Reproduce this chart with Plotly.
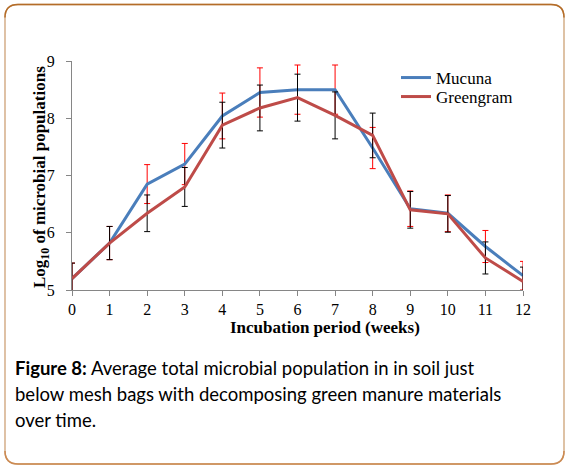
import plotly.graph_objects as go

weeks = list(range(13))
mucuna = [5.2, 5.82, 6.85, 7.2, 8.04, 8.45, 8.5, 8.5, 7.48, 6.42, 6.34, 5.76, 5.25]
greengram = [5.2, 5.82, 6.34, 6.8, 7.88, 8.18, 8.36, 8.05, 7.7, 6.4, 6.33, 5.56, 5.15]
mucuna_err = [0.27, 0.29, 0.34, 0.36, 0.40, 0.43, 0.43, 0.43, 0.36, 0.31, 0.32, 0.28, 0.25]
greengram_err = [0.27, 0.29, 0.32, 0.34, 0.40, 0.40, 0.41, 0.41, 0.39, 0.32, 0.32, 0.28, 0.25]
y_ticks = [5, 6, 7, 8, 9]

W, H = 569, 466
L, R, T, B = 72, 523, 61, 290


def px(x):
    return (x - L) / (R - L)


def py(y):
    return (B - y) / (B - T)


fig = go.Figure()
fig.add_trace(go.Scatter(
    x=weeks, y=mucuna, name="Mucuna", mode="lines", legend="legend",
    line=dict(color="#4a7ebb", width=3),
    error_y=dict(type="data", array=mucuna_err, color="#ff0000", thickness=1, width=3),
))
fig.add_trace(go.Scatter(
    x=weeks, y=greengram, name="Greengram", mode="lines", legend="legend2",
    line=dict(color="#be4b48", width=3),
    error_y=dict(type="data", array=greengram_err, color="#000000", thickness=1, width=3),
))

serif = "Liberation Serif, Times New Roman, serif"
axis_col = "#868686"
leg_font = dict(family=serif, size=17, color="black")

fig.update_layout(
    width=W, height=H,
    margin=dict(l=L, r=W - R, t=T, b=H - B, pad=0),
    paper_bgcolor="white", plot_bgcolor="white",
    showlegend=True,
    legend=dict(x=px(396), y=py(78), xanchor="left", yanchor="middle",
                font=leg_font, bgcolor="rgba(0,0,0,0)", itemwidth=30),
    legend2=dict(x=px(396), y=py(97), xanchor="left", yanchor="middle",
                 font=leg_font, bgcolor="rgba(0,0,0,0)", itemwidth=30),
    xaxis=dict(range=[0, 12], tickvals=weeks, ticktext=[str(w) for w in weeks],
               showline=True, linecolor=axis_col, linewidth=1,
               ticks="outside", ticklen=5, tickcolor=axis_col,
               showgrid=False, zeroline=False,
               tickfont=dict(family=serif, size=16, color="black")),
    yaxis=dict(range=[5, 9], tickvals=y_ticks,
               ticktext=[str(v) + "\u00a0\u00a0" for v in y_ticks],
               showline=True, linecolor=axis_col, linewidth=1,
               ticks="outside", ticklen=5, tickcolor=axis_col,
               showgrid=False, zeroline=False,
               tickfont=dict(family=serif, size=16, color="black")),
)

# axis titles
fig.add_annotation(text="<b>Incubation period (weeks)</b>", xref="paper", yref="paper",
                   x=px(325), y=py(327), xanchor="center", yanchor="middle", showarrow=False,
                   font=dict(family=serif, size=17, color="black"))
fig.add_annotation(text="<b>Log<sub>10</sub> of microbial populations</b>", xref="paper", yref="paper",
                   x=px(41), y=py(177), xanchor="center", yanchor="middle", showarrow=False,
                   textangle=-90, font=dict(family=serif, size=17, color="black"))

# caption
cap_font = dict(family="Lato, Noto Sans, sans-serif", size=18.5, color="black")
cap_lines = [
    "<b>Figure 8:</b> Average total microbial population in in soil just",
    "below mesh bags with decomposing green manure materials",
    "over time.",
]
for i, t in enumerate(cap_lines):
    fig.add_annotation(text=t, xref="paper", yref="paper", x=px(13), y=py(368 + 26 * i),
                       xanchor="left", yanchor="middle", showarrow=False, font=cap_font)

# rounded border
x0, x1, y0, y1, r = 5, 564, 4.5, 464, 13
def P(x, y):
    return f"{px(x):.5f},{py(y):.5f}"
path = (f"M {P(x0 + r, y0)} L {P(x1 - r, y0)} Q {P(x1, y0)} {P(x1, y0 + r)} "
        f"L {P(x1, y1 - r)} Q {P(x1, y1)} {P(x1 - r, y1)} "
        f"L {P(x0 + r, y1)} Q {P(x0, y1)} {P(x0, y1 - r)} "
        f"L {P(x0, y0 + r)} Q {P(x0, y0)} {P(x0 + r, y0)} Z")
fig.add_shape(type="path", path=path, xref="paper", yref="paper",
              line=dict(color="#d4ae88", width=1.5), layer="above")
top_path = (f"M {P(x0, y0 + r)} Q {P(x0, y0)} {P(x0 + r, y0)} "
            f"L {P(x1 - r, y0)} Q {P(x1, y0)} {P(x1, y0 + r)}")
fig.add_shape(type="path", path=top_path, xref="paper", yref="paper",
              line=dict(color="#b46c28", width=1.5), layer="above")
bot_path = (f"M {P(x0, y1 - r)} Q {P(x0, y1)} {P(x0 + r, y1)} "
            f"L {P(x1 - r, y1)} Q {P(x1, y1)} {P(x1, y1 - r)}")
fig.add_shape(type="path", path=bot_path, xref="paper", yref="paper",
              line=dict(color="#cc8a52", width=1.5), layer="above")

fig.write_html("out.html", config={"displayModeBar": False},
               post_script="document.body.style.margin='0px';document.body.style.overflow='hidden';")
